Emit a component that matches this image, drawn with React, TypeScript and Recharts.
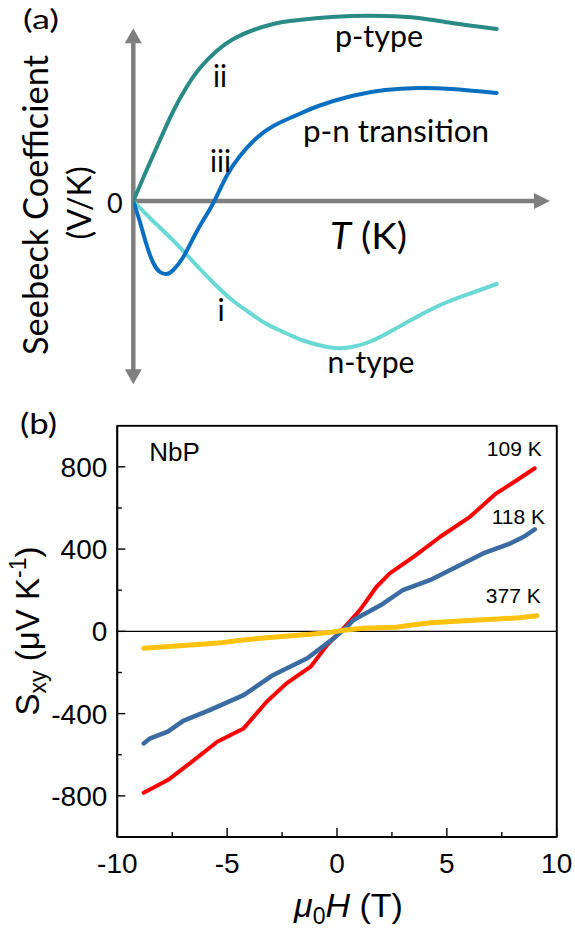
import React from 'react';
import { LineChart, Line, XAxis, YAxis, ReferenceLine, ReferenceDot, CartesianGrid } from 'recharts';

// ---------- Panel (a): schematic Seebeck coefficient vs T (arbitrary units) ----------
const pTypeT = [0, 3.2, 6.4, 9.6, 12.8, 16, 20, 24, 28.8, 33.6, 37.6, 44.4, 52.4, 60.4, 68.4, 76.4, 87.2];
const pTypeS = [0, 0.31, 0.61, 0.9, 1.14, 1.33, 1.5, 1.62, 1.71, 1.77, 1.8, 1.83, 1.85, 1.85, 1.83, 1.78, 1.72];

const pnT = [0, 1.6, 3.2, 4.8, 6.4, 8.0, 9.6, 12.0, 14.4, 16.8, 19.2, 22.4, 25.6, 29.6, 33.6, 37.6, 40.4, 44.4, 52.4, 60.4, 68.4, 76.4, 87.2];
const pnS = [0, -0.21, -0.44, -0.62, -0.71, -0.73, -0.69, -0.56, -0.37, -0.19, -0.02, 0.25, 0.45, 0.63, 0.75, 0.83, 0.88, 0.95, 1.05, 1.11, 1.13, 1.12, 1.08];

const nTypeT = [0, 4, 8, 12, 16, 20, 24, 28, 32, 37.6, 40.4, 44.4, 48.4, 52.4, 57.2, 62.8, 68.4, 74.8, 81.2, 87.2];
const nTypeS = [0, -0.17, -0.33, -0.5, -0.68, -0.85, -1.0, -1.12, -1.23, -1.34, -1.39, -1.44, -1.47, -1.46, -1.4, -1.28, -1.15, -1.02, -0.92, -0.83];

const axisTMax = 100;
const axisSTop = 1.727;
const axisSBottom = -1.833;

// ---------- Panel (b): NbP S_xy vs mu0H ----------
const field109 = [-8.8, -7.7, -6.7, -5.45, -4.25, -3.2, -2.3, -1.2, -0.45, 0.3, 1.05, 1.8, 2.4, 3.5, 4.7, 6.05, 7.25, 8.2, 9.0];
const sxy109 = [-785, -723, -642, -537, -472, -342, -253, -172, -67, 15, 104, 217, 282, 363, 460, 557, 671, 736, 793];

const field118 = [-8.8, -8.5, -7.7, -7.0, -5.8, -4.25, -2.9, -1.35, -0.15, 0.45, 0.75, 2.0, 3.0, 4.25, 5.45, 6.65, 7.9, 8.5, 9.0];
const sxy118 = [-545, -520, -488, -435, -383, -310, -212, -131, -34, 22, 55, 128, 201, 250, 314, 379, 428, 460, 496];

const field377 = [-8.8, -7.5, -6.0, -5.3, -4.5, -3.5, -2.5, -1.2, -0.3, 0.3, 1.2, 2.0, 2.7, 3.5, 4.3, 5.8, 7.3, 8.3, 9.1];
const sxy377 = [-82, -73, -62, -56, -45, -34, -25, -14, -5, 5, 15, 18, 20, 32, 42, 52, 60, 66, 76];

const xDomain = [-10, 10];
const yDomain = [-1000, 1000];
const xTicks = [-10, -7.5, -5, -2.5, 0, 2.5, 5, 7.5, 10];
const yTicks = [-800, -600, -400, -200, 0, 200, 400, 600, 800];

const zip = (xs: number[], ys: number[], kx: string, ky: string) =>
  xs.map((x, i) => ({ [kx]: x, [ky]: ys[i] }));

const pTypeData = zip(pTypeT, pTypeS, 'T', 'S');
const pnData = zip(pnT, pnS, 'T', 'S');
const nTypeData = zip(nTypeT, nTypeS, 'T', 'S');
const d109 = zip(field109, sxy109, 'H', 'Sxy');
const d118 = zip(field118, sxy118, 'H', 'Sxy');
const d377 = zip(field377, sxy377, 'H', 'Sxy');

const GRAY = '#7f7f7f';
const CAL = 'Lato, "Open Sans", sans-serif';
const ARIAL = '"Liberation Sans", Arial, sans-serif';

// panel (b) layout (chart margins / axis sizes)
const B_TOP = 400;
const B_W = 575;
const B_H = 533;
const B_MARGIN = { top: 25.7, right: 18.3, bottom: 46, left: 17.3 };
const B_YAXIS_W = 100;
const B_XAXIS_H = 50;
const boxLeft = B_MARGIN.left + B_YAXIS_W;
const boxTop = B_TOP + B_MARGIN.top;
const boxW = B_W - boxLeft - B_MARGIN.right;
const boxH = B_H - B_MARGIN.top - B_MARGIN.bottom - B_XAXIS_H;

const ArrowUp = (p: any) => (
  <polygon points={`${p.cx},${p.cy} ${p.cx - 8.5},${p.cy + 15} ${p.cx + 8.5},${p.cy + 15}`} fill={GRAY} />
);
const ArrowDown = (p: any) => (
  <polygon points={`${p.cx},${p.cy} ${p.cx - 8.5},${p.cy - 15} ${p.cx + 8.5},${p.cy - 15}`} fill={GRAY} />
);
const ArrowRight = (p: any) => (
  <polygon points={`${p.cx},${p.cy} ${p.cx - 16},${p.cy - 8} ${p.cx - 16},${p.cy + 8}`} fill={GRAY} />
);

const XTick = (props: any) => {
  const { x, y, payload } = props;
  const v = payload.value;
  const major = v % 5 === 0;
  return (
    <g>
      <line x1={x} x2={x} y1={y} y2={y - (major ? 9 : 5)} stroke="#000" strokeWidth={1.4} />
      {major && (
        <text x={x} y={y + 36} textAnchor="middle" fontSize={28} fontFamily={ARIAL} fill="#000">
          {String(v)}
        </text>
      )}
    </g>
  );
};

const YTick = (props: any) => {
  const { x, y, payload } = props;
  const v = payload.value;
  const major = v % 400 === 0;
  return (
    <g>
      <line x1={x} x2={x + (major ? 8 : 4.5)} y1={y} y2={y} stroke="#000" strokeWidth={1.4} />
      {major && (
        <text x={x - 10} y={y + 10} textAnchor="end" fontSize={28} fontFamily={ARIAL} fill="#000">
          {String(v)}
        </text>
      )}
    </g>
  );
};

const frameV = ({ offset }: any) => [offset.left, offset.left + offset.width];
const frameH = ({ offset }: any) => [offset.top, offset.top + offset.height];

export default function App() {
  return (
    <div style={{ position: 'absolute', left: 0, top: 0, width: 575, height: 933, background: '#fff', overflow: 'hidden' }}>
      {/* Panel (a) */}
      <div style={{ position: 'absolute', left: 0, top: 0, width: 575, height: 400, overflow: 'hidden' }}>
        <LineChart width={575} height={410} margin={{ top: 1, right: 25, bottom: 9, left: 133.3 }}>
          <XAxis type="number" dataKey="T" domain={[0, 100]} hide allowDataOverflow />
          <YAxis type="number" dataKey="S" domain={[-2, 2]} hide allowDataOverflow />
          <ReferenceLine segment={[{ x: 0, y: axisSBottom + 0.14 }, { x: 0, y: axisSTop - 0.14 }]} stroke={GRAY} strokeWidth={4.5} ifOverflow="visible" />
          <ReferenceLine segment={[{ x: 0, y: 0 }, { x: axisTMax - 3.5, y: 0 }]} stroke={GRAY} strokeWidth={4.5} ifOverflow="visible" />
          <ReferenceDot x={0} y={axisSTop} shape={ArrowUp} ifOverflow="visible" />
          <ReferenceDot x={0} y={axisSBottom} shape={ArrowDown} ifOverflow="visible" />
          <ReferenceDot x={axisTMax} y={0} shape={ArrowRight} ifOverflow="visible" />
          <Line data={nTypeData} dataKey="S" type="natural" stroke="#6ad8d4" strokeWidth={4} dot={false} isAnimationActive={false} strokeLinecap="round" />
          <Line data={pnData} dataKey="S" type="natural" stroke="#0a6fc0" strokeWidth={4} dot={false} isAnimationActive={false} strokeLinecap="round" />
          <Line data={pTypeData} dataKey="S" type="natural" stroke="#2a8a85" strokeWidth={4} dot={false} isAnimationActive={false} strokeLinecap="round" />
        </LineChart>
      </div>

      {/* Panel (b) */}
      <div style={{ position: 'absolute', left: 0, top: B_TOP, width: B_W, height: B_H }}>
        <LineChart width={B_W} height={B_H} margin={B_MARGIN}>
          <CartesianGrid stroke="#000" strokeWidth={1.6} strokeOpacity={1}
            verticalCoordinatesGenerator={frameV} horizontalCoordinatesGenerator={frameH}
            syncWithTicks={false} />
          <XAxis type="number" dataKey="H" domain={xDomain} ticks={xTicks} interval={0} height={B_XAXIS_H}
            axisLine={{ stroke: '#000', strokeWidth: 1.6 }} tickLine={false} tickSize={0} tickMargin={0} tick={<XTick />} />
          <YAxis type="number" dataKey="Sxy" domain={yDomain} ticks={yTicks} interval={0} width={B_YAXIS_W}
            axisLine={{ stroke: '#000', strokeWidth: 1.6 }} tickLine={false} tickSize={0} tickMargin={0} tick={<YTick />} />
          <ReferenceLine y={0} stroke="#000" strokeWidth={1.3} />
          <Line data={d109} dataKey="Sxy" type="linear" stroke="#fe0000" strokeWidth={4} dot={false} isAnimationActive={false} strokeLinecap="round" strokeLinejoin="round" />
          <Line data={d118} dataKey="Sxy" type="linear" stroke="#3a6ca3" strokeWidth={4.5} dot={false} isAnimationActive={false} strokeLinecap="round" strokeLinejoin="round" />
          <Line data={d377} dataKey="Sxy" type="linear" stroke="#ffc20e" strokeWidth={5} dot={false} isAnimationActive={false} strokeLinecap="round" strokeLinejoin="round" />
        </LineChart>
      </div>

      {/* Overlay: plot box outline + texts */}
      <svg width={575} height={933} style={{ position: 'absolute', left: 0, top: 0, pointerEvents: 'none' }}>
        <rect x={boxLeft} y={boxTop} width={boxW} height={boxH} fill="none" stroke="#000" strokeWidth={1.6} />
        <g fontFamily={CAL} fill="#000">
          <text x={23} y={29} fontSize={27} textLength={36} lengthAdjust="spacingAndGlyphs">(a)</text>
          <text x={335} y={46.5} fontSize={30} textLength={88} lengthAdjust="spacingAndGlyphs">p-type</text>
          <text x={303} y={141.5} fontSize={30} textLength={186} lengthAdjust="spacingAndGlyphs">p-n transition</text>
          <text x={213} y={86.5} fontSize={30} textLength={14} lengthAdjust="spacingAndGlyphs">ii</text>
          <text x={210} y={171.5} fontSize={30} textLength={21} lengthAdjust="spacingAndGlyphs">iii</text>
          <text x={217.5} y={321} fontSize={30}>i</text>
          <text x={327.5} y={373} fontSize={30} textLength={87} lengthAdjust="spacingAndGlyphs">n-type</text>
          <text x={330} y={248.5} fontSize={37} textLength={77} lengthAdjust="spacingAndGlyphs">
            <tspan fontStyle="italic">T</tspan> (K)
          </text>
          <text x={107} y={213} fontSize={27}>0</text>
          <text x={48.3} y={205} fontSize={35} textAnchor="middle" transform="rotate(-90, 48.3, 205)" textLength={300} lengthAdjust="spacingAndGlyphs">Seebeck Coefficient</text>
          <text x={91} y={203} fontSize={33} textAnchor="middle" transform="rotate(-90, 91, 203)" textLength={73} lengthAdjust="spacingAndGlyphs">(V/K)</text>
          <text x={20} y={434} fontSize={28} textLength={37} lengthAdjust="spacingAndGlyphs">(b)</text>
        </g>
        <g fontFamily={ARIAL} fill="#000">
          <text x={149.3} y={460.7} fontSize={26}>NbP</text>
          <text x={541.7} y={456} fontSize={21} textAnchor="end">109 K</text>
          <text x={545} y={524.3} fontSize={21} textAnchor="end">118 K</text>
          <text x={540.7} y={603.3} fontSize={21} textAnchor="end">377 K</text>
          <text x={294} y={917} fontSize={34}>
            <tspan fontStyle="italic">μ</tspan>
            <tspan dy={7} fontSize={23}>0</tspan>
            <tspan dy={-7} fontStyle="italic">H</tspan>
            <tspan> (T)</tspan>
          </text>
          <text x={38.5} y={631} fontSize={33} textAnchor="middle" transform="rotate(-90, 38.5, 631)">
            <tspan>S</tspan>
            <tspan dy={7} fontSize={23}>xy</tspan>
            <tspan dy={-7}> (μV K</tspan>
            <tspan dy={-13} fontSize={23}>-1</tspan>
            <tspan dy={13}>)</tspan>
          </text>
        </g>
      </svg>
    </div>
  );
}
